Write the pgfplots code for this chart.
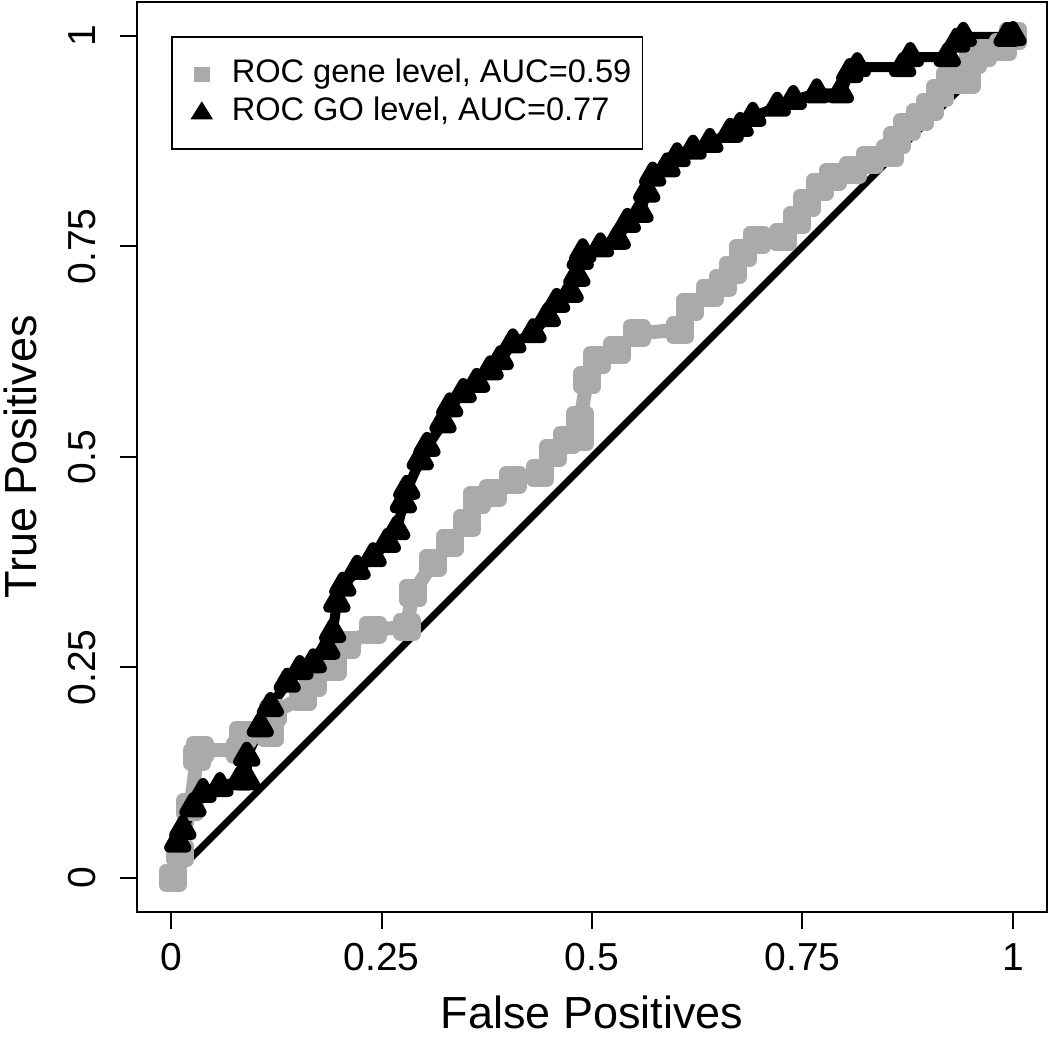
\documentclass[border=0pt]{standalone}
\usepackage{fontspec}
\setmainfont{Liberation Sans}
\usepackage{pgfplots}
\pgfplotsset{compat=1.18}
\definecolor{rocgrey}{RGB}{170,170,170}

\begin{document}
\begin{tikzpicture}
\useasboundingbox (-68.5pt,-63pt) rectangle (456.5pt,456pt);
\begin{axis}[
    scale only axis, width=455pt, height=455pt,
    xmin=-0.0404, xmax=1.0404, ymin=-0.0404, ymax=1.0404,
    axis line style={line width=1pt},
    xtick={0,0.25,0.5,0.75,1}, xticklabels={0,0.25,0.5,0.75,1},
    ytick={0,0.25,0.5,0.75,1}, yticklabels={0,0.25,0.5,0.75,1},
    tick align=outside, major tick length=8.5pt,
    xtick pos=bottom, ytick pos=left,
    tick style={line width=1pt, black},
    ticklabel style={font=\fontsize{19.5}{20}\selectfont},
    xticklabel style={anchor=center, inner sep=0pt, yshift=-14pt},
    yticklabel style={xshift=-19pt, rotate=90, anchor=center, inner sep=0pt},
    xlabel={False Positives}, ylabel={True Positives},
    label style={font=\fontsize{22.5}{24}\selectfont},
    xlabel style={at={(axis description cs:0.5,-0.11)}, anchor=center},
    ylabel style={at={(axis description cs:-0.1286,0.5)}, anchor=center, rotate=0},
    legend style={at={(0.0374,0.9626)}, anchor=north west, draw=black,
        line width=0.75pt, inner xsep=5.5pt, inner ysep=11pt,
        font=\fontsize{16.3}{18}\selectfont, row sep=3.2pt,
        nodes={inner sep=0pt, text height=12pt, text depth=3.5pt}},
    legend cell align=left,
]
% gene level ROC
\addplot[forget plot, rocgrey, line width=7pt, line join=round,
    mark=square*, mark size=3.5pt, mark options={draw=none, fill=rocgrey}]
coordinates {
(0.002,0.000)(0.011,0.030)(0.023,0.084)(0.031,0.144)(0.034,0.152)
(0.082,0.152)(0.086,0.170)(0.118,0.172)(0.121,0.196)(0.157,0.215)
(0.169,0.232)(0.192,0.251)(0.209,0.277)(0.240,0.295)(0.280,0.298)
(0.287,0.338)(0.311,0.374)(0.331,0.398)(0.352,0.422)(0.363,0.449)
(0.382,0.457)(0.406,0.473)(0.438,0.481)(0.454,0.505)(0.470,0.520)
(0.486,0.524)(0.486,0.544)(0.494,0.591)(0.506,0.615)(0.530,0.627)
(0.553,0.647)(0.605,0.651)(0.616,0.678)(0.640,0.695)(0.656,0.707)
(0.667,0.722)(0.679,0.742)(0.696,0.758)(0.727,0.761)(0.743,0.781)
(0.755,0.802)(0.771,0.821)(0.786,0.833)(0.810,0.841)(0.830,0.853)
(0.854,0.861)(0.862,0.876)(0.874,0.892)(0.890,0.904)(0.901,0.916)
(0.913,0.932)(0.925,0.948)(0.945,0.948)(0.952,0.971)(0.964,0.980)
(0.988,0.987)(1.000,1.000)
};
% GO level ROC
\addplot[forget plot, black, line width=5pt, line join=round,
    mark=triangle*, mark size=5pt, mark options={draw=none, fill=black}]
coordinates {
(0.008,0.042)(0.014,0.057)(0.026,0.084)(0.038,0.101)(0.058,0.108)
(0.082,0.116)(0.090,0.116)(0.090,0.144)(0.106,0.179)(0.118,0.203)
(0.138,0.232)(0.153,0.247)(0.169,0.255)(0.185,0.271)(0.192,0.291)
(0.197,0.327)(0.204,0.346)(0.221,0.366)(0.240,0.381)(0.257,0.398)
(0.268,0.413)(0.276,0.445)(0.280,0.461)(0.296,0.496)(0.304,0.512)
(0.323,0.540)(0.331,0.559)(0.347,0.576)(0.363,0.588)(0.379,0.603)
(0.391,0.615)(0.406,0.635)(0.430,0.647)(0.447,0.666)(0.458,0.683)
(0.474,0.695)(0.482,0.714)(0.486,0.734)(0.489,0.742)(0.510,0.749)
(0.530,0.758)(0.542,0.778)(0.557,0.790)(0.565,0.814)(0.572,0.833)
(0.589,0.844)(0.601,0.856)(0.620,0.865)(0.640,0.873)(0.664,0.885)
(0.676,0.892)(0.691,0.904)(0.720,0.916)(0.739,0.924)(0.767,0.932)
(0.795,0.932)(0.806,0.956)(0.815,0.963)(0.869,0.963)(0.878,0.975)
(0.922,0.975)(0.933,0.992)(0.941,0.999)(0.993,0.999)(1.000,1.000)
};
% chance diagonal
\addplot[forget plot, black, line width=3.5pt, line cap=round] coordinates {(0.01,0.01)(1,1)};
\addlegendimage{legend image code/.code={
    \path[draw=none, fill=none] (0pt,-3.5pt) rectangle (24.5pt,3.5pt);
    \fill[rocgrey] (6pt,-3.5pt) rectangle (13pt,3.5pt);}}
\addlegendentry{ROC gene level, AUC=0.59}
\addlegendimage{legend image code/.code={
    \path[draw=none, fill=none] (0pt,-3.5pt) rectangle (24.5pt,3.5pt);
    \fill[black] (9.5pt,4.5pt) -- (4.5pt,-3.5pt) -- (14.5pt,-3.5pt) -- cycle;}}
\addlegendentry{ROC GO level, AUC=0.77}
\end{axis}
\end{tikzpicture}
\end{document}
